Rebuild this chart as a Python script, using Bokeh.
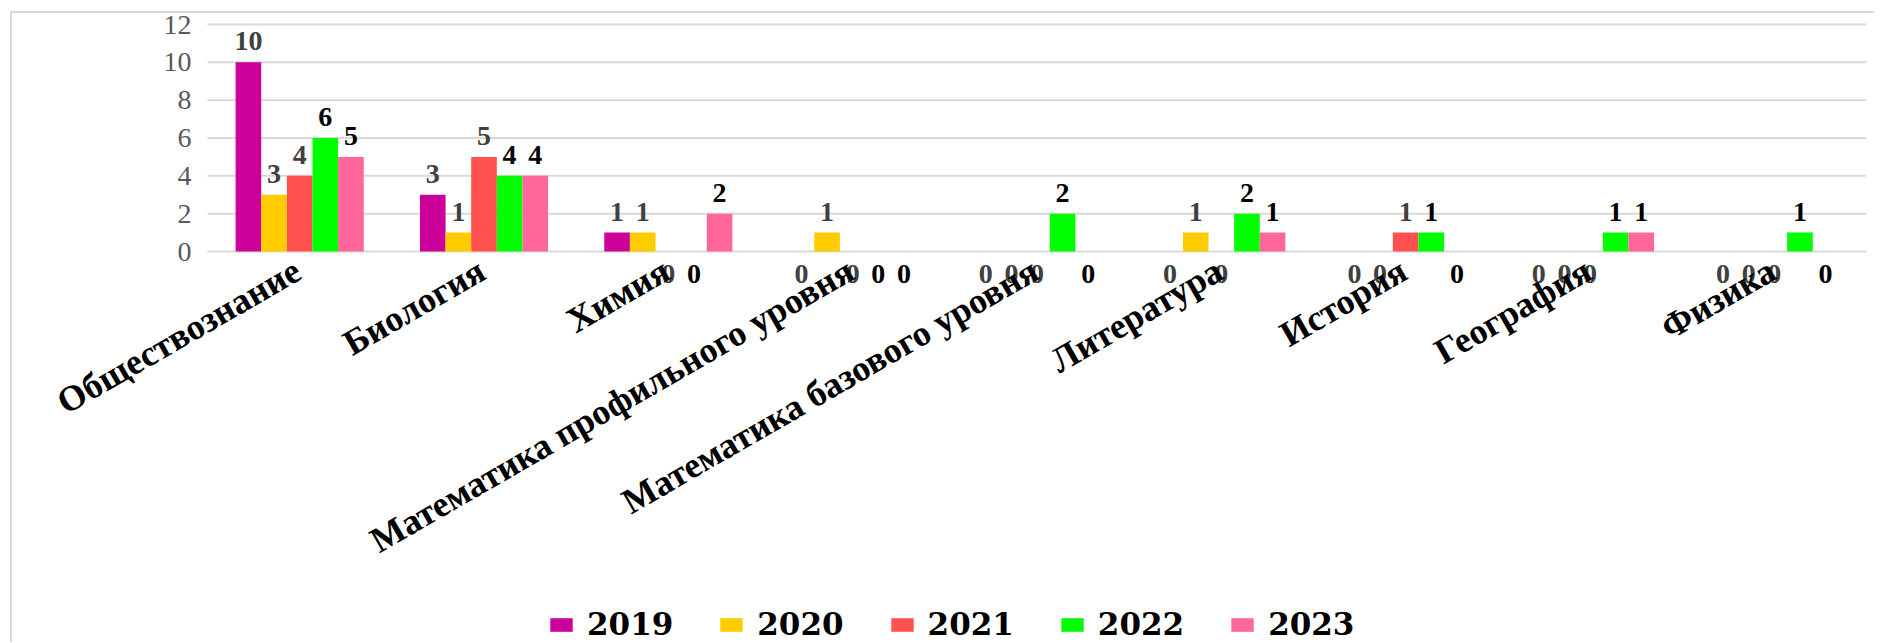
import math
from bokeh.plotting import figure
from bokeh.models import (ColumnDataSource, Range1d, LabelSet, Legend, LegendItem)
from bokeh.embed import file_html
from bokeh.resources import INLINE

categories = ["Обществознание", "Биология", "Химия", "Математика профильного уровня",
              "Математика базового уровня", "Литература", "История", "География", "Физика"]
years = ["2019", "2020", "2021", "2022", "2023"]
v2019 = [10, 3, 1, 0, 0, 0, 0, 0, 0]
v2020 = [3, 1, 1, 1, 0, 1, 0, 0, 0]
v2021 = [4, 5, 0, 0, 0, 0, 1, 0, 0]
v2022 = [6, 4, 0, 0, 2, 2, 1, 1, 1]
v2023 = [5, 4, 2, 0, 0, 1, 0, 1, 0]
series = [v2019, v2020, v2021, v2022, v2023]
colors = ["#CC0099", "#FFCC00", "#FF5050", "#00FF00", "#FF6699"]
label_colors = ["#404040", "#404040", "#404040", "#000000", "#000000"]
y_ticks = [0, 2, 4, 6, 8, 10, 12]
y_tick_labels = [str(t) for t in y_ticks]

# layout (pixels)
W, H = 1874, 642
FRAME_LEFT, FRAME_TOP, RIGHT = 12, 2, 8
PLOT_LEFT, PLOT_TOP = 207, 24   # where category area / top gridline begin
n = len(categories)
px_per_cat = (W - RIGHT - PLOT_LEFT) / n
px_per_unit = 227 / 12.0
x_start = -(PLOT_LEFT - FRAME_LEFT) / px_per_cat
y_top = 12 + (PLOT_TOP - FRAME_TOP) / px_per_unit
y_bottom = 12 - (H - PLOT_TOP) / px_per_unit

p = figure(width=W, height=H, x_range=Range1d(x_start, n),
           y_range=Range1d(y_bottom, y_top),
           output_backend="svg", toolbar_location=None)
p.min_border_left = FRAME_LEFT
p.min_border_right = RIGHT
p.min_border_top = FRAME_TOP
p.min_border_bottom = 0
p.outline_line_color = None
p.background_fill_color = "white"
p.border_fill_color = "white"
p.axis.visible = False
p.grid.visible = False
p.stylesheets = [
    ":host { position: relative; }"
    ":host::after { content: ''; position: absolute; left: 10px; top: 11px;"
    " right: 0; bottom: 0; border-left: 2px solid #d9d9d9;"
    " border-top: 2px solid #d9d9d9; pointer-events: none; }"
]

# gridlines and value-axis labels
grid_src = ColumnDataSource(dict(y=y_ticks, txt=y_tick_labels,
                                 x0=[0] * len(y_ticks), x1=[n] * len(y_ticks)))
p.segment(x0="x0", x1="x1", y0="y", y1="y", source=grid_src,
          line_color="#d9d9d9", line_width=2)
p.add_layout(LabelSet(x="x0", y="y", text="txt", source=grid_src, x_offset=-16,
                      text_align="right", text_baseline="middle",
                      text_font="DejaVu Sans", text_font_size="28px",
                      text_color="#595959"))

xc = [i + 0.5 for i in range(n)]
bw = 0.139
items = []
for i, (yr, vals) in enumerate(zip(years, series)):
    off = (i - 2) * bw
    src = ColumnDataSource(dict(
        x=[c + off for c in xc], val=vals, txt=[str(v) for v in vals],
        yo=[12 if v > 0 else -31 for v in vals]))
    r = p.vbar(x="x", top="val", width=bw, source=src,
               fill_color=colors[i], line_color=None)
    items.append(LegendItem(label=yr, renderers=[r]))
    p.add_layout(LabelSet(x="x", y="val", text="txt", y_offset="yo", source=src,
                          text_align="center", text_baseline="alphabetic",
                          text_font="DejaVu Serif", text_font_style="bold",
                          text_font_size="28px", text_color=label_colors[i]))

cat_src = ColumnDataSource(dict(x=xc, y=[0] * n, txt=categories))
p.add_layout(LabelSet(x="x", y="y", text="txt", source=cat_src,
                      angle=math.pi / 6, x_offset=-2, y_offset=-16,
                      text_align="right", text_baseline="middle",
                      text_font="Liberation Serif", text_font_style="bold",
                      text_font_size="36px", text_color="#000000"))

legend = Legend(items=items, orientation="horizontal",
                location=(547 - FRAME_LEFT, 0))
legend.border_line_color = None
legend.background_fill_alpha = 0
legend.padding = 0
legend.margin = 0
legend.glyph_width = 28
legend.glyph_height = 17
legend.label_standoff = 12
legend.spacing = 44
legend.label_text_font = "DejaVu Serif"
legend.label_text_font_style = "bold"
legend.label_text_font_size = "31px"
legend.label_text_color = "#000000"
p.add_layout(legend, "center")

open("out.html", "w").write(file_html(p, INLINE))
